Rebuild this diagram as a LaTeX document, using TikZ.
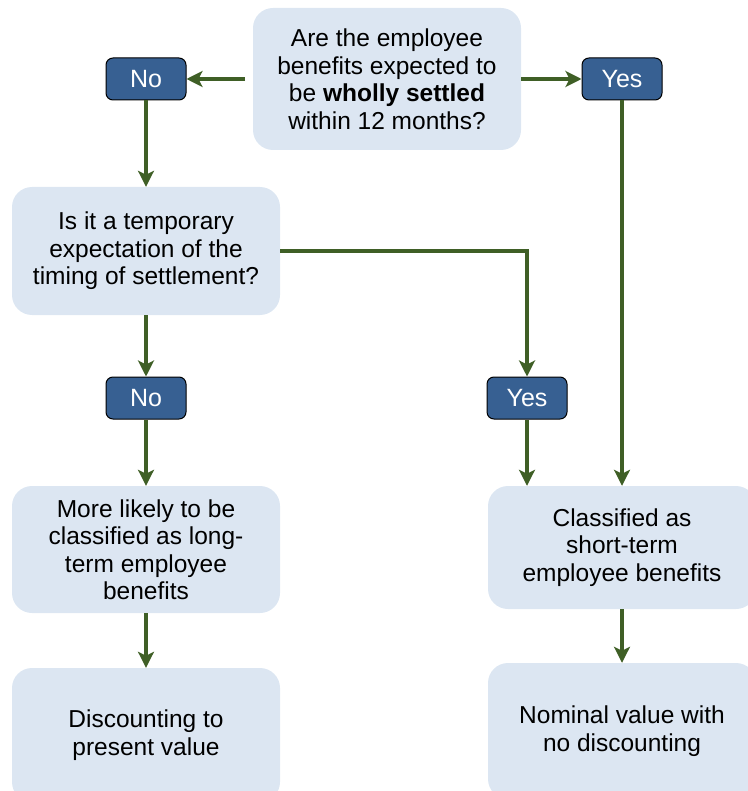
\documentclass[tikz,border=0pt]{standalone}
\usepackage{fontspec}
\setmainfont{Liberation Sans}
\usetikzlibrary{arrows.meta}
\definecolor{boxfill}{HTML}{DCE6F2}
\definecolor{darkfill}{HTML}{376092}
\definecolor{arrowc}{HTML}{3F5F26}
\begin{document}
\begin{tikzpicture}[x=1pt,y=-1pt,
  lbox/.style={fill=boxfill, rounded corners=20pt, minimum width=268pt, align=center, font=\fontsize{24.5}{27.5}\selectfont, inner sep=0pt},
  dbox/.style={fill=darkfill, draw=black, line width=1pt, rounded corners=7pt, minimum width=80pt, minimum height=42pt, text=white, font=\fontsize{25}{27}\selectfont, inner sep=0pt},
  arr/.style={draw=arrowc, line width=4pt, -{Stealth[length=16pt,width=16pt,inset=4pt]}}]
\useasboundingbox (0,0) rectangle (747,791);
\node[lbox, minimum height=142pt] (top) at (387,79) {Are the employee\\benefits expected to\\be \textbf{wholly settled}\\within 12 months?};
\node[dbox] (no1) at (146,79) {No};
\node[dbox] (yes1) at (622,79) {Yes};
\node[lbox, minimum height=128pt] (q2) at (146,251) {Is it a temporary\\expectation of the\\timing of settlement?};
\node[dbox] (no2) at (146,398) {No};
\node[dbox] (yes2) at (527,398) {Yes};
\node[lbox, minimum height=127pt] (lt) at (146,549.5) {More likely to be\\classified as long-\\term employee\\benefits};
\node[lbox, minimum height=123pt] (st) at (622,547.5) {Classified as\\short-term\\employee benefits};
\node[lbox, minimum height=134pt] (disc) at (146,735) {Discounting to\\present value};
\node[lbox, minimum height=136pt] (nom) at (622,731) {Nominal value with\\no discounting};
\coordinate (tl) at (245,79);
\draw[arr] (tl) -- (no1.east);
\draw[arr] (top.east) -- (yes1.west);
\draw[arr] (no1.south) -- (q2.north);
\draw[arr] (q2.east) -| (yes2.north);
\draw[arr] (q2.south) -- (no2.north);
\draw[arr] (no2.south) -- (lt.north);
\draw[arr] (yes2.south) -- (yes2.south |- st.north);
\draw[arr] (yes1.south) -- (st.north);
\draw[arr] (lt.south) -- (disc.north);
\draw[arr] (st.south) -- (nom.north);
\end{tikzpicture}
\end{document}
